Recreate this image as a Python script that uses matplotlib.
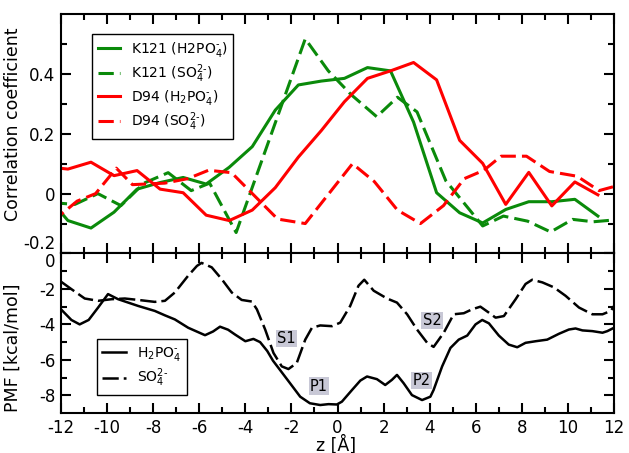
import numpy as np
import matplotlib.pyplot as plt
from matplotlib.ticker import FixedLocator, MultipleLocator

plt.rcParams['font.family'] = 'DejaVu Sans'
plt.rcParams['mathtext.default'] = 'regular'

# ---- correlation coefficients (top panel) ----
z_solid = [-12.7, -11.7, -10.7, -9.7, -8.7, -7.7, -6.7, -5.7, -4.7, -3.7, -2.7, -1.7, -0.7,
           0.3, 1.3, 2.3, 3.3, 4.3, 5.3, 6.3, 7.3, 8.3, 9.3, 10.3, 11.3]
k121_h2po4 = [0.0, -0.09, -0.115, -0.062, 0.015, 0.037, 0.054, 0.032, 0.088, 0.157, 0.279, 0.363, 0.376,
              0.385, 0.421, 0.41, 0.239, 0.003, -0.064, -0.098, -0.053, -0.027, -0.027, -0.019, -0.075]
d94_h2po4 = [0.09, 0.082, 0.105, 0.06, 0.077, 0.015, 0.003, -0.072, -0.09, -0.055, 0.02, 0.122, 0.211,
             0.307, 0.385, 0.41, 0.438, 0.38, 0.178, 0.101, -0.036, 0.071, -0.041, 0.039, -0.004]

z_k121_so4 = [-12.4, -11.4, -10.4, -9.4, -8.4, -7.35, -6.35, -5.55, -4.4, -1.4, -0.4, 0.6, 1.7,
              2.6, 3.45, 4.7, 6.3, 7.2, 8.25, 9.25, 10.2, 11.1, 12.3]
k121_so4 = [-0.03, -0.036, 0.0, -0.04, 0.035, 0.07, 0.01, 0.035, -0.13, 0.517, 0.41, 0.33, 0.257,
            0.322, 0.273, 0.043, -0.108, -0.075, -0.092, -0.128, -0.086, -0.094, -0.086]

z_d94_so4 = [-12.4, -11.3, -10.5, -9.6, -8.9, -7.5, -6.5, -5.6, -4.6, -2.6, -1.4, 0.65, 1.6,
             2.6, 3.6, 4.6, 5.5, 6.35, 7.1, 8.2, 9.2, 10.4, 11.35, 12.3]
d94_so4 = [-0.095, -0.025, 0.0, 0.085, 0.03, 0.035, 0.05, 0.078, 0.07, -0.085, -0.1, 0.1, 0.04,
           -0.055, -0.1, -0.04, 0.05, 0.078, 0.125, 0.125, 0.074, 0.058, 0.01, 0.03]

# ---- PMF (bottom panel) ----
z_pmf_h2po4 = [-12.0, -11.55, -11.19, -10.8, -10.39, -9.96, -9.52, -8.65, -7.93, -7.49, -7.06, -6.48,
               -5.75, -5.4, -5.1, -4.75, -4.45, -4.0, -3.65, -3.36, -3.05, -2.8, -2.45, -2.06, -1.62,
               -1.2, -0.75, -0.39, -0.03, 0.19, 0.63, 0.99, 1.28, 1.71, 2.07, 2.36, 2.58, 2.87, 3.23,
               3.67, 4.03, 4.17, 4.54, 4.9, 5.26, 5.63, 5.99, 6.28, 6.57, 7.0, 7.43, 7.8, 8.16, 8.6,
               9.1, 9.61, 10.04, 10.33, 10.63, 11.06, 11.5, 11.71, 12.0]
pmf_h2po4 = [-3.15, -3.75, -4.0, -3.75, -3.05, -2.29, -2.58, -2.96, -3.24, -3.49, -3.72, -4.19,
             -4.61, -4.4, -4.13, -4.3, -4.57, -4.95, -4.82, -5.0, -5.5, -6.05, -6.65, -7.32, -8.08,
             -8.45, -8.55, -8.5, -8.52, -8.36, -7.7, -7.17, -6.94, -7.09, -7.42, -7.13, -6.85, -7.32, -7.99,
             -8.27, -8.08, -7.7, -6.37, -5.33, -4.86, -4.63, -4.0, -3.75, -3.94, -4.63, -5.14, -5.29, -5.04, -4.95,
             -4.86, -4.53, -4.29, -4.23, -4.34, -4.38, -4.47, -4.38, -4.19]

z_pmf_so4 = [-12.0, -11.55, -10.97, -10.39, -9.81, -9.23, -8.65, -7.93, -7.49, -7.06, -6.48, -6.1,
             -5.9, -5.46, -5.03, -4.59, -4.16, -3.72, -3.5, -3.14, -2.78, -2.42, -2.13, -1.77, -1.4,
             -1.11, -0.75, -0.24, 0.12, 0.55, 0.91, 1.16, 1.57, 2.15, 2.58, 3.02, 3.45, 3.89, 4.17,
             4.61, 5.04, 5.48, 5.84, 6.2, 6.57, 6.86, 7.22, 7.73, 8.16, 8.45, 8.89, 9.39, 9.9, 10.48,
             11.06, 11.5, 11.86, 12.0]
pmf_so4 = [-1.59, -2.01, -2.54, -2.67, -2.58, -2.54, -2.62, -2.73, -2.67, -2.2, -1.25, -0.7,
           -0.53, -0.78, -1.44, -2.2, -2.62, -2.71, -3.15, -4.29, -5.61, -6.37, -6.52, -6.18, -4.86,
           -4.19, -4.06, -4.1, -3.9, -2.96, -1.82, -1.48, -2.1, -2.54, -2.77, -3.43, -4.29, -5.04, -5.27,
           -4.47, -3.43, -3.37, -3.15, -3.0, -3.34, -3.62, -3.53, -2.58, -1.72, -1.48, -1.63, -1.91, -2.39, -3.05,
           -3.43, -3.43, -3.24, -2.96]

site_labels = ['S1', 'P1', 'P2', 'S2']
site_z = [-2.23, -0.8, 3.64, 4.1]
site_pmf = [-4.8, -7.48, -7.15, -3.78]

green = '#0a8a0a'
red = '#ff0000'
dash = (5, 2)
hy = '\u2010'  # small hyphen used in the ion charges

fig = plt.figure(figsize=(6.29, 4.53), dpi=100)
ax1 = fig.add_axes([0.097, 0.4404, 0.8792, 0.5287])
ax2 = fig.add_axes([0.097, 0.0883, 0.8792, 0.3521])

ax1.plot(z_solid, k121_h2po4, color=green, lw=2.2, label='K121 (H2PO$_4^{%s}$)' % hy)
ax1.plot(z_k121_so4, k121_so4, color=green, lw=2.2, dashes=dash, label='K121 (SO$_4^{2%s}$)' % hy)
ax1.plot(z_solid, d94_h2po4, color=red, lw=2.2, label='D94 (H$_2$PO$_4^{%s}$)' % hy)
ax1.plot(z_d94_so4, d94_so4, color=red, lw=2.2, dashes=dash, label='D94 (SO$_4^{2%s}$)' % hy)

ax2.plot(z_pmf_h2po4, pmf_h2po4, color='black', lw=1.8, label='H$_2$PO$_4^{%s}$' % hy)
ax2.plot(z_pmf_so4, pmf_so4, color='black', lw=1.8, dashes=(6.5, 2), label='SO$_4^{2%s}$' % hy)

for s, x, y in zip(site_labels, site_z, site_pmf):
    ax2.text(x, y, s, ha='center', va='center', fontsize=10.5,
             bbox=dict(boxstyle='square,pad=0.08', fc='#c8c8d6', ec='none'))

for ax in (ax1, ax2):
    ax.set_xlim(-12, 12)
    ax.xaxis.set_major_locator(MultipleLocator(2))
    ax.xaxis.set_minor_locator(MultipleLocator(1))
    ax.tick_params(which='both', direction='in', top=True, right=True, width=1.5, labelsize=12, pad=4)
    ax.tick_params(which='major', length=7)
    ax.tick_params(which='minor', length=4)
    for sp in ax.spines.values():
        sp.set_linewidth(1.5)

ax1.set_ylim(-0.2, 0.6)
ax1.yaxis.set_major_locator(FixedLocator([-0.2, 0, 0.2, 0.4]))
ax1.set_yticklabels(['-0.2', '0', '0.2', '0.4'])
ax1.yaxis.set_minor_locator(FixedLocator([-0.1, 0.1, 0.3, 0.5]))
ax1.yaxis.get_major_ticks()[0].label1.set_va('bottom')
ax1.tick_params(labelbottom=False)
ax1.set_ylabel('Correlation coefficient', fontsize=12.5)
ax1.yaxis.set_label_coords(-0.0705, 0.539)

ax2.set_ylim(-9, 0)
ax2.yaxis.set_major_locator(FixedLocator([-8, -6, -4, -2, 0]))
ax2.set_yticklabels(['-8', '-6', '-4', '-2', '0'])
ax2.yaxis.set_minor_locator(FixedLocator([-7, -5, -3, -1]))
ax2.set_xticks(np.arange(-12, 13, 2))
ax2.set_xticklabels([str(v) for v in range(-12, 13, 2)])
ax2.yaxis.get_major_ticks()[-1].label1.set_va('top')
ax2.set_ylabel('PMF [kcal/mol]', fontsize=12.5)
ax2.yaxis.set_label_coords(-0.0705, 0.409)
ax2.set_xlabel('z [Å]', fontsize=12.5)
ax2.xaxis.set_label_coords(0.497, -0.138)

leg1 = ax1.legend(loc='upper left', bbox_to_anchor=(0.056, 0.9165), borderaxespad=0,
                  fontsize=10, fancybox=False, edgecolor='black', framealpha=1,
                  handlelength=1.6, handletextpad=0.8, labelspacing=0.25, borderpad=0.4)
leg1.get_frame().set_linewidth(1.0)
leg2 = ax2.legend(loc='upper left', bbox_to_anchor=(0.0646, 0.4635), borderaxespad=0,
                  fontsize=10, fancybox=False, edgecolor='black', framealpha=1,
                  handlelength=1.7, handletextpad=0.8, labelspacing=0.3, borderpad=0.4)
leg2.get_frame().set_linewidth(1.0)

fig.savefig('out.png', dpi=100)
